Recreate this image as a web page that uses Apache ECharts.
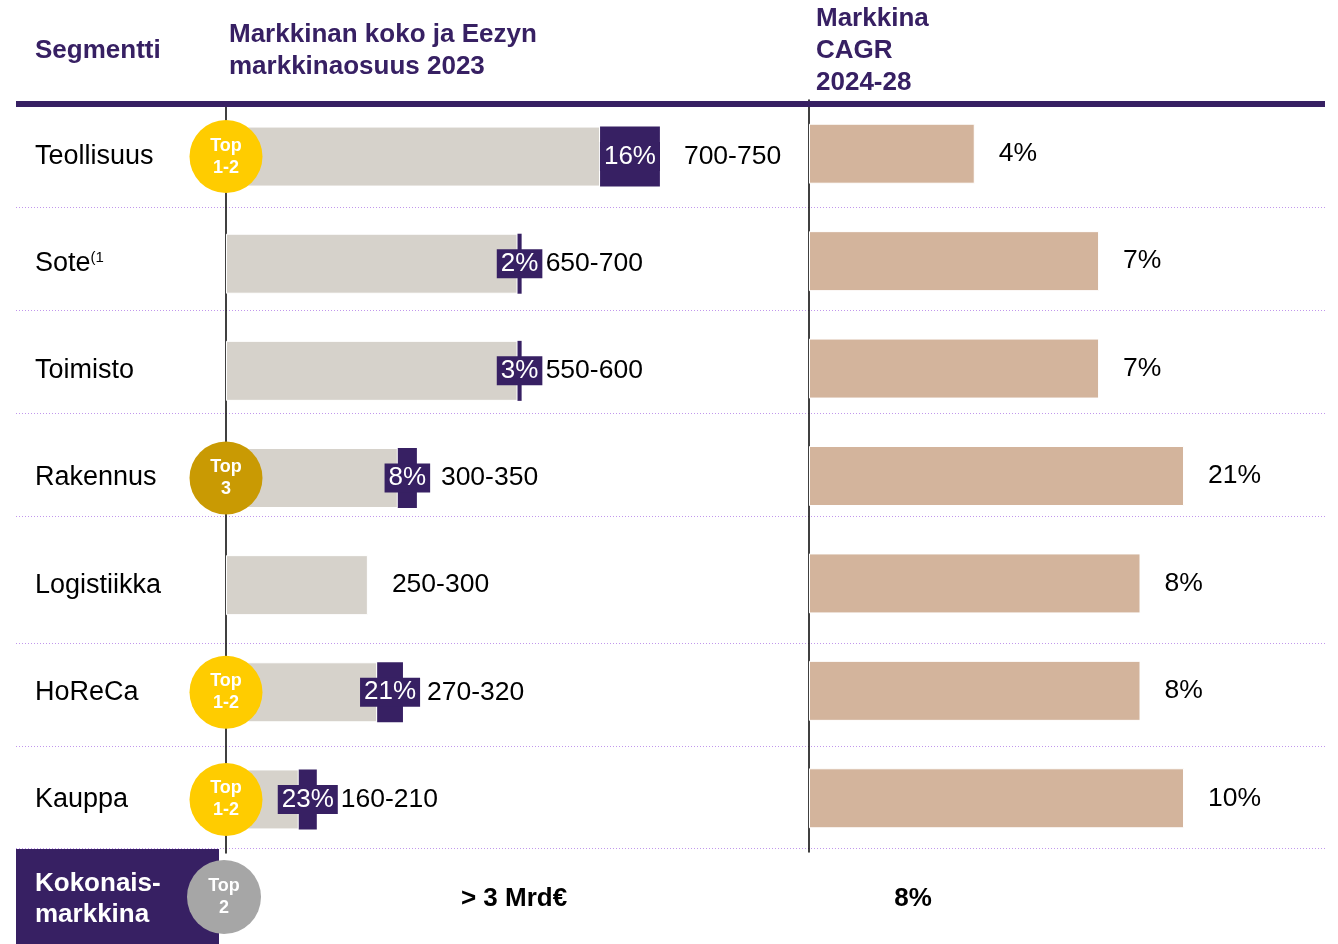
<!DOCTYPE html>
<html>
<head>
<meta charset="utf-8">
<script src="https://cdn.jsdelivr.net/npm/echarts@6/dist/echarts.min.js"></script>
<style>
  html, body { margin: 0; padding: 0; background: #fff; }
  #chart { width: 1338px; height: 944px; }
</style>
</head>
<body>
<div id="chart"></div>
<script>
// segmentit ja arvot (luettu kuvasta)
const segments = ['Teollisuus', 'Sote', 'Toimisto', 'Rakennus', 'Logistiikka', 'HoReCa', 'Kauppa'];
const marketSize = ['700-750', '650-700', '550-600', '300-350', '250-300', '270-320', '160-210'];
const sizeBar = [725, 565, 565, 333, 275, 293, 141];          // piirretty pituus, M€
const eezyShare = ['16%', '2%', '3%', '8%', null, '21%', '23%'];
const shareBar = [116, 8, 8, 37, null, 50, 35];               // piirretty pituus, M€
const cagr = ['4%', '7%', '7%', '21%', '8%', '8%', '10%'];
const cagrBar = [4, 7, 7, 9.05, 8, 8, 9.05];                  // piirretty pituus, %
const rank = ['Top 1-2', null, null, 'Top 3', null, 'Top 1-2', 'Top 1-2'];
const totalLabel = 'Kokonais-\nmarkkina';
const totalSize = '> 3 Mrd€';
const totalCagr = '8%';
const totalRank = 'Top 2';

const PURPLE = '#372063';
const GRAY = '#d6d2cb';
const TAN = '#d3b49c';
const FONT = '"Liberation Sans", Arial, sans-serif';
const badgeColors = { 'Top 1-2': '#ffcc00', 'Top 3': '#c99a03', 'Top 2': '#a6a6a6' };
const rowLines = [207, 310, 413, 516, 643, 746, 848];

var chart = echarts.init(document.getElementById('chart'));

var badgeData = [];
rank.forEach(function (r, i) {
    if (r) badgeData.push({ value: [0, i], name: r, itemStyle: { color: badgeColors[r] } });
});

var shareData = shareBar.map(function (v, i) {
    return v == null ? { value: 0, label: { show: false } } : v;
});

var graphics = [];
// otsikkorivi
graphics.push({ type: 'rect', shape: { x: 16, y: 101, width: 1309, height: 6 }, style: { fill: PURPLE }, z: 1 });
graphics.push({ type: 'text', x: 35, y: 51, style: { text: 'Segmentti', fill: PURPLE, font: 'bold 26px ' + FONT, verticalAlign: 'middle' } });
graphics.push({ type: 'text', x: 229, y: 51, style: { text: 'Markkinan koko ja Eezyn\nmarkkinaosuus 2023', fill: PURPLE, font: 'bold 26px ' + FONT, lineHeight: 32, verticalAlign: 'middle' } });
graphics.push({ type: 'text', x: 816, y: 51, style: { text: 'Markkina\nCAGR\n2024-28', fill: PURPLE, font: 'bold 26px ' + FONT, lineHeight: 32, verticalAlign: 'middle' } });
// rivien erottimet
rowLines.forEach(function (y) {
    graphics.push({ type: 'line', shape: { x1: 16, y1: y + 0.5, x2: 1325, y2: y + 0.5 }, style: { stroke: '#c197ec', lineWidth: 1, lineDash: [1, 2] }, z: 0 });
});
// kokonaismarkkina-rivi
graphics.push({ type: 'rect', shape: { x: 16, y: 849, width: 203, height: 95 }, style: { fill: PURPLE }, z: 1 });
graphics.push({ type: 'text', x: 35, y: 899, style: { text: totalLabel, fill: '#fff', font: 'bold 26px ' + FONT, lineHeight: 31, verticalAlign: 'middle' }, z: 2 });
graphics.push({ type: 'circle', shape: { cx: 224, cy: 897, r: 37 }, style: { fill: badgeColors[totalRank] }, z: 3 });
graphics.push({ type: 'text', x: 224, y: 897, style: { text: totalRank.replace(' ', '\n'), fill: '#fff', font: 'bold 18px ' + FONT, lineHeight: 22, align: 'center', verticalAlign: 'middle' }, z: 4 });
graphics.push({ type: 'text', x: 514, y: 899, style: { text: totalSize, fill: '#000', font: 'bold 26px ' + FONT, align: 'center', verticalAlign: 'middle' } });
graphics.push({ type: 'text', x: 913, y: 899, style: { text: totalCagr, fill: '#000', font: 'bold 26px ' + FONT, align: 'center', verticalAlign: 'middle' } });

var option = {
    animation: false,
    backgroundColor: '#fff',
    textStyle: { fontFamily: FONT },
    grid: [
        { left: 226, top: 103, width: 583, height: 750 },
        { left: 809, top: 100, width: 518, height: 752 }
    ],
    xAxis: [
        { gridIndex: 0, type: 'value', min: 0, max: 1130, show: false },
        { gridIndex: 1, type: 'value', min: 0, max: 12.5, show: false }
    ],
    yAxis: [
        {
            gridIndex: 0, type: 'category', inverse: true, data: segments,
            axisLine: { lineStyle: { color: '#000', width: 1.5 } },
            axisTick: { show: false },
            axisLabel: {
                margin: 191, align: 'left', color: '#000', fontSize: 27, fontFamily: FONT,
                formatter: function (v) { return v === 'Sote' ? 'Sote{sup|(1}' : v; },
                rich: { sup: { fontSize: 15, color: '#000', fontFamily: FONT, padding: [0, 0, 12, 0] } }
            }
        },
        {
            gridIndex: 1, type: 'category', inverse: true, data: segments,
            axisLine: { lineStyle: { color: '#000', width: 1.5 } },
            axisTick: { show: false },
            axisLabel: { show: false }
        }
    ],
    series: [
        {
            name: 'Markkinan koko', type: 'bar', stack: 'koko', xAxisIndex: 0, yAxisIndex: 0,
            barWidth: 60, data: sizeBar,
            itemStyle: { color: GRAY, borderColor: '#fff', borderWidth: 1 }
        },
        {
            name: 'Eezyn osuus', type: 'bar', stack: 'koko', xAxisIndex: 0, yAxisIndex: 0,
            barWidth: 60, data: shareData,
            itemStyle: { color: PURPLE },
            label: {
                show: true, position: 'inside', color: '#fff', fontSize: 26, fontFamily: FONT,
                backgroundColor: PURPLE, padding: [2, 4, 1, 4],
                formatter: function (p) { return eezyShare[p.dataIndex] || ''; }
            },
            z: 3
        },
        {
            name: 'koko-arvo', type: 'bar', stack: 'koko', xAxisIndex: 0, yAxisIndex: 0,
            barWidth: 60, data: segments.map(function () { return 0; }),
            itemStyle: { color: 'rgba(0,0,0,0)' },
            label: {
                show: true, position: 'right', distance: 24, color: '#000', fontSize: 26.5, fontFamily: FONT,
                formatter: function (p) { return marketSize[p.dataIndex]; }
            },
            z: 4
        },
        {
            name: 'CAGR', type: 'bar', xAxisIndex: 1, yAxisIndex: 1,
            barWidth: 60, data: cagrBar,
            itemStyle: { color: TAN, borderColor: '#fff', borderWidth: 1 },
            label: {
                show: true, position: 'right', distance: 24, color: '#000', fontSize: 26.5, fontFamily: FONT,
                formatter: function (p) { return cagr[p.dataIndex]; }
            }
        },
        {
            name: 'Sijoitus', type: 'scatter', xAxisIndex: 0, yAxisIndex: 0,
            symbol: 'circle', symbolSize: 73, clip: false, z: 6,
            data: badgeData,
            itemStyle: { opacity: 1 },
            label: {
                show: true, position: 'inside', color: '#fff', fontSize: 18, fontWeight: 'bold',
                fontFamily: FONT, lineHeight: 22,
                formatter: function (p) { return p.name.replace(' ', '\n'); }
            }
        }
    ],
    graphic: graphics
};

chart.setOption(option);
</script>
</body>
</html>
